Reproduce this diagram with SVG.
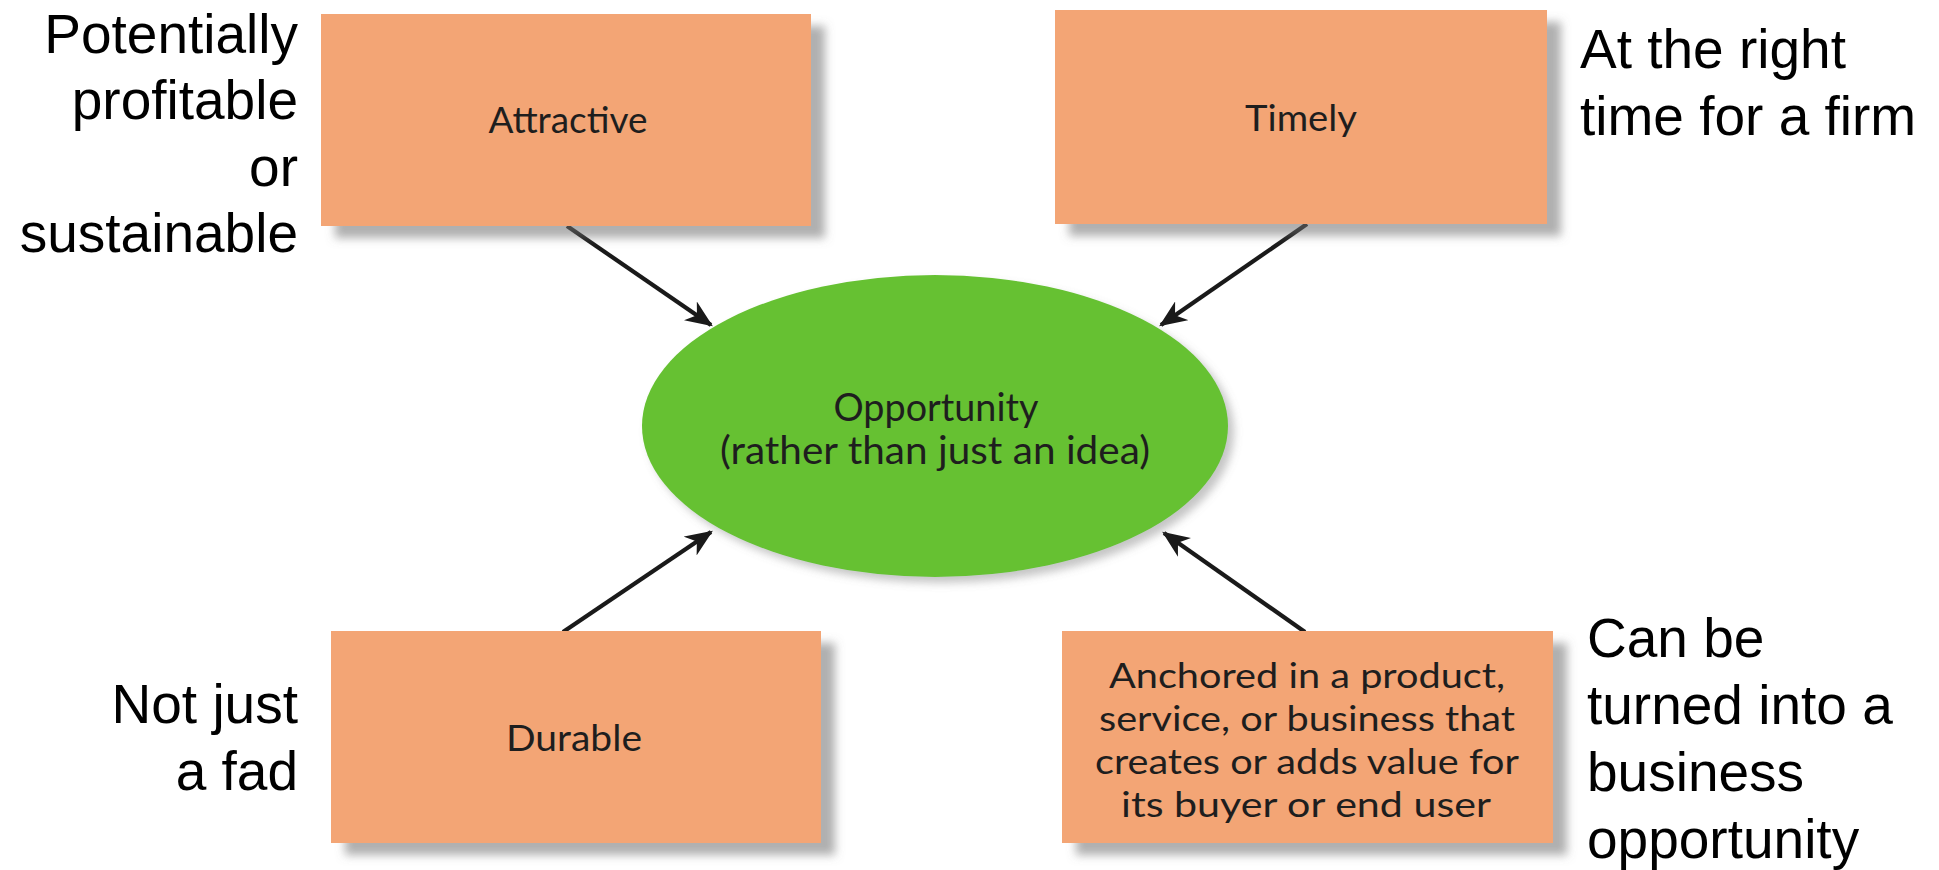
<svg xmlns="http://www.w3.org/2000/svg" width="1939" height="870" viewBox="0 0 1939 870">
  <defs>
    <filter id="shadow" x="-10%" y="-10%" width="130%" height="140%">
      <feDropShadow dx="14" dy="12" stdDeviation="5" flood-color="#6e6e6e" flood-opacity="0.55"/>
    </filter>
    <filter id="eshadow" x="-10%" y="-10%" width="130%" height="130%">
      <feDropShadow dx="6" dy="6" stdDeviation="4" flood-color="#6e6e6e" flood-opacity="0.4"/>
    </filter>
    <marker id="arrow" viewBox="0 0 12 10" refX="11" refY="5" markerWidth="6.5" markerHeight="5.5" markerUnits="strokeWidth" orient="auto">
      <path d="M0,0 L12,5 L0,10 L3.5,5 z" fill="#1a1a1a"/>
    </marker>
  </defs>
  <style>
    .box { fill: #F3A574; filter: url(#shadow); }
    .oval { fill: #66C133; filter: url(#eshadow); }
    .btxt { font-family: Lato, "Open Sans", sans-serif; font-size: 36px; fill: #1e1e1e; text-anchor: middle; }
    .atxt { font-family: Lato, "Open Sans", sans-serif; font-size: 34px; fill: #1e1e1e; text-anchor: middle; }
    .otxt { font-family: Lato, "Open Sans", sans-serif; font-size: 38px; fill: #1e1e1e; text-anchor: middle; }
    .side { font-family: "Liberation Sans", Arial, sans-serif; font-size: 55px; fill: #000; }
    .conn { stroke: #1a1a1a; stroke-width: 4.2; fill: none; marker-end: url(#arrow); }
  </style>
  <rect width="1939" height="870" fill="#ffffff"/>

  <g id="connectors">
    <line class="conn" x1="567" y1="226" x2="711" y2="325"/>
    <line class="conn" x1="1307" y1="224" x2="1161" y2="325"/>
    <line class="conn" x1="563" y1="632" x2="711" y2="532"/>
    <line class="conn" x1="1305" y1="632" x2="1164" y2="533"/>
  </g>

  <g id="node-attractive">
    <rect class="box" x="321" y="14" width="490" height="212"/>
    <text class="btxt" x="568" y="133" textLength="159" lengthAdjust="spacingAndGlyphs">Attractive</text>
  </g>

  <g id="node-timely">
    <rect class="box" x="1055" y="10" width="492" height="214"/>
    <text class="btxt" x="1301" y="131" textLength="112" lengthAdjust="spacingAndGlyphs">Timely</text>
  </g>

  <g id="node-durable">
    <rect class="box" x="331" y="631" width="490" height="212"/>
    <text class="btxt" x="574" y="751" textLength="136" lengthAdjust="spacingAndGlyphs">Durable</text>
  </g>

  <g id="node-anchored">
    <rect class="box" x="1062" y="631" width="491" height="212"/>
    <text class="atxt" x="1307" y="688" textLength="396" lengthAdjust="spacingAndGlyphs">Anchored in a product,</text>
    <text class="atxt" x="1307" y="731" textLength="416" lengthAdjust="spacingAndGlyphs">service, or business that</text>
    <text class="atxt" x="1307" y="774" textLength="424" lengthAdjust="spacingAndGlyphs">creates or adds value for</text>
    <text class="atxt" x="1306" y="817" textLength="370" lengthAdjust="spacingAndGlyphs">its buyer or end user</text>
  </g>

  <g id="node-opportunity">
    <ellipse class="oval" cx="935" cy="426" rx="293" ry="151"/>
    <text class="otxt" x="936" y="421" textLength="205" lengthAdjust="spacingAndGlyphs">Opportunity</text>
    <text class="otxt" x="935" y="464" textLength="430" lengthAdjust="spacingAndGlyphs">(rather than just an idea)</text>
  </g>

  <g id="label-attractive" class="side" text-anchor="end">
    <text x="298" y="53">Potentially</text>
    <text x="298" y="119">profitable</text>
    <text x="298" y="186">or</text>
    <text x="298" y="252">sustainable</text>
  </g>

  <g id="label-timely" class="side">
    <text x="1580" y="68">At the right</text>
    <text x="1580" y="135">time for a firm</text>
  </g>

  <g id="label-durable" class="side" text-anchor="end">
    <text x="298" y="723">Not just</text>
    <text x="298" y="790">a fad</text>
  </g>

  <g id="label-anchored" class="side">
    <text x="1587" y="657">Can be</text>
    <text x="1587" y="724">turned into a</text>
    <text x="1587" y="791">business</text>
    <text x="1587" y="858">opportunity</text>
  </g>
</svg>
